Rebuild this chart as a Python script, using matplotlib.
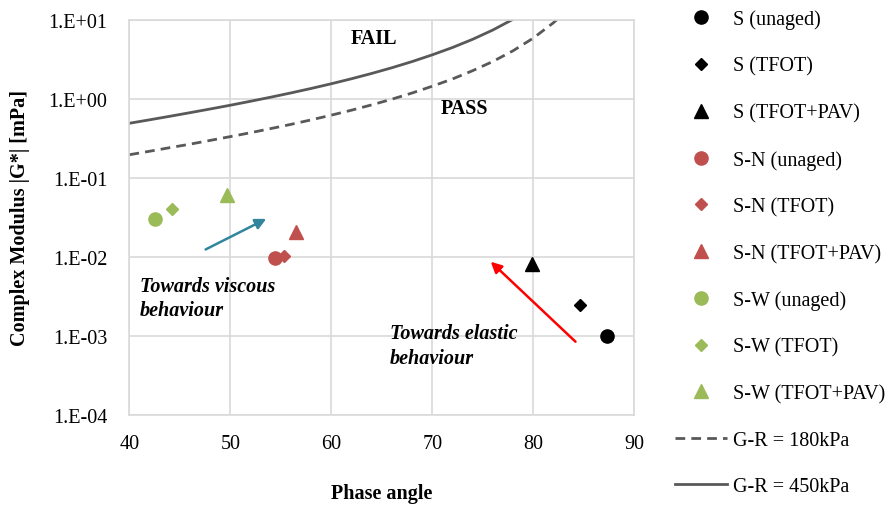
import numpy as np
import matplotlib
matplotlib.use("Agg")
import matplotlib.pyplot as plt
from matplotlib.ticker import FixedLocator, FuncFormatter, NullLocator

plt.rcParams['font.family'] = ['Liberation Serif', 'DejaVu Serif']

# binder samples: (phase angle [deg], |G*|)
labels = ["S (unaged)", "S (TFOT)", "S (TFOT+PAV)",
          "S-N (unaged)", "S-N (TFOT)", "S-N (TFOT+PAV)",
          "S-W (unaged)", "S-W (TFOT)", "S-W (TFOT+PAV)"]
phase = [87.3, 84.6, 79.9,
         54.4, 55.3, 56.5,
         42.5, 44.2, 49.7]
modulus = [0.0010, 0.00245, 0.0082,
           0.0097, 0.0102, 0.021,
           0.030, 0.040, 0.060]
markers = ["o", "D", "^"] * 3
colors = ["#000000"] * 3 + ["#C0504D"] * 3 + ["#9BBB59"] * 3

# G-R limit curves
gr_angle = [40, 42, 44, 46, 48, 50, 52, 54, 56, 58, 60, 62, 64, 66, 68,
            70, 72, 74, 76, 78, 80, 82, 83]
gr180 = [0.197, 0.218, 0.242, 0.268, 0.299, 0.334, 0.374, 0.422, 0.477,
         0.544, 0.624, 0.721, 0.842, 0.994, 1.19, 1.45, 1.79, 2.28, 2.98,
         4.07, 5.88, 9.20, 12.0]
gr450_angle = [40, 42, 44, 46, 48, 50, 52, 54, 56, 58, 60, 62, 64, 66, 68,
               70, 72, 74, 76, 78, 79]
gr450 = [0.493, 0.545, 0.604, 0.671, 0.747, 0.834, 0.936, 1.054, 1.193,
         1.359, 1.559, 1.803, 2.105, 2.485, 2.974, 3.62, 4.48, 5.69, 7.46,
         10.2, 12.5]

fig = plt.figure(figsize=(8.91, 5.06), dpi=100)
ax = fig.add_axes([0.1453, 0.178, 0.5663, 0.7805])

handles = []
for i in range(len(labels)):
    ms = 6.5 if markers[i] == "D" else 9.5
    h, = ax.plot(phase[i], modulus[i], linestyle="none", marker=markers[i],
                 color=colors[i], markersize=ms, label=labels[i], zorder=4)
    handles.append(h)

h1, = ax.plot(gr_angle, gr180, color="#595959", lw=2.0, ls=(0, (3.5, 2.2)),
              label="G-R = 180kPa")
h2, = ax.plot(gr450_angle, gr450, color="#595959", lw=2.0,
              label="G-R = 450kPa")
handles += [h1, h2]

ax.set_xlim(40, 90)
ax.set_yscale("log")
ax.set_ylim(1e-4, 1e1)
ax.xaxis.set_major_locator(FixedLocator([40, 50, 60, 70, 80, 90]))
ax.yaxis.set_major_locator(FixedLocator([1e-4, 1e-3, 1e-2, 1e-1, 1e0, 1e1]))
ax.yaxis.set_minor_locator(NullLocator())
ax.yaxis.set_major_formatter(FuncFormatter(
    lambda v, p: "1.E{:+03d}".format(int(round(np.log10(v))))))
ax.tick_params(axis="x", length=0, labelsize=14.5, pad=14)
ax.tick_params(axis="y", length=0, labelsize=14.5, pad=16)
ax.grid(True, color="#D9D9D9", lw=1.2)
ax.set_axisbelow(True)
for s in ax.spines.values():
    s.set_color("#D9D9D9")
    s.set_linewidth(1.2)

ax.set_xlabel("Phase angle", fontsize=14.5, fontweight="bold", labelpad=21)
ax.set_ylabel("Complex Modulus |G*| [mPa]", fontsize=14.5, fontweight="bold",
              labelpad=13)

# arrows
ax.annotate("", xy=(53.8, 0.0315), xytext=(47.3, 0.012),
            arrowprops=dict(arrowstyle="-|>", color="#31859C", lw=1.8,
                            mutation_scale=16))
ax.annotate("", xy=(75.6, 0.0092), xytext=(84.4, 0.0008),
            arrowprops=dict(arrowstyle="-|>", color="#FF0000", lw=1.8,
                            mutation_scale=16))

ax.text(41.0, 0.0058, "Towards viscous\nbehaviour", fontsize=14.5,
        fontweight="bold", style="italic", va="top", linespacing=1.3)
ax.text(65.8, 0.00145, "Towards elastic\nbehaviour", fontsize=14.5,
        fontweight="bold", style="italic", va="top", linespacing=1.3)
ax.text(64.2, 6.0, "FAIL", fontsize=14.5, fontweight="bold", ha="center",
        va="center")
ax.text(73.2, 0.77, "PASS", fontsize=14.5, fontweight="bold", ha="center",
        va="center")

fig.legend(handles=handles, loc="upper left", bbox_to_anchor=(0.748, 0.995),
           frameon=False, fontsize=14.5, numpoints=1, handlelength=2.6,
           handletextpad=0.3, labelspacing=1.36, borderaxespad=0)

fig.savefig("out.png", dpi=100)
